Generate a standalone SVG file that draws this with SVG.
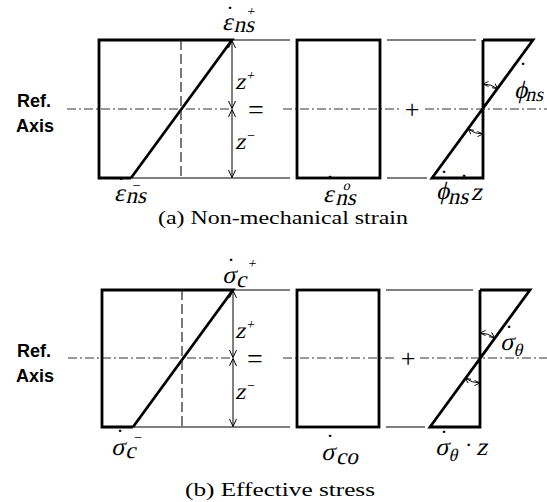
<svg xmlns="http://www.w3.org/2000/svg" width="547" height="502" viewBox="0 0 547 502">
<defs>
<marker id="ah" viewBox="0 0 8 8" refX="7.5" refY="4" markerWidth="8" markerHeight="8" markerUnits="userSpaceOnUse" orient="auto-start-reverse">
<path d="M0,0.5 L7.5,4 L0,7.5" fill="none" stroke="#000" stroke-width="1"/>
</marker>
<marker id="ahs" viewBox="0 0 8 8" refX="7.5" refY="4" markerWidth="6" markerHeight="6" markerUnits="userSpaceOnUse" orient="auto-start-reverse">
<path d="M0,0.5 L7.5,4 L0,7.5" fill="none" stroke="#000" stroke-width="1.2"/>
</marker>
</defs>
<style>
.thick{fill:none;stroke:#000;stroke-width:2.8;stroke-linejoin:miter}
.thin{fill:none;stroke:#000;stroke-width:1.1}
.dash{fill:none;stroke:#222;stroke-width:1.2;stroke-dasharray:10 4}
.axis{fill:none;stroke:#333;stroke-width:1.1;stroke-dasharray:9 3 2 3}
.dim{fill:none;stroke:#000;stroke-width:1;marker-start:url(#ah);marker-end:url(#ah)}
.arc{fill:none;stroke:#000;stroke-width:1;marker-start:url(#ahs);marker-end:url(#ahs)}
text{font-family:"Liberation Serif","Times New Roman",serif;fill:#000}
.m{font-size:25px}
.s{font-size:23px}
.sup{font-size:14px}
.th{font-size:18px}
.dot{font-size:24px;text-anchor:middle}
.op{font-size:28px;text-anchor:middle}
.ref{font-family:"Liberation Sans",Arial,sans-serif;font-weight:bold;font-size:18px}
.cap{font-size:18px}
</style>

<!-- ============ Panel (a) ============ -->
<g id="connectors-a">
<line class="axis" x1="67" y1="109" x2="232" y2="109"/>
<line class="axis" x1="283" y1="109" x2="400" y2="109"/>
<line class="axis" x1="425" y1="109" x2="547" y2="109"/>
<line class="thin" x1="232" y1="40" x2="290" y2="40"/>
<line class="thin" x1="131" y1="178" x2="290" y2="178"/>
<line class="thin" x1="387" y1="40" x2="476" y2="40"/>
<line class="thin" x1="387" y1="178" x2="427" y2="178"/>
<line class="dim" x1="232" y1="40.5" x2="232" y2="108.5"/>
<line class="dim" x1="232" y1="109.5" x2="232" y2="177.5"/>
<path class="arc" d="M483,84 A25,25 0 0 1 497.8,88.8"/>
<path class="arc" d="M483,134 A25,25 0 0 1 468.2,129.2"/>
</g>
<g id="node-a-left">
<path class="thick" d="M131,178 H99 V40 H232 L131,178"/>
<line class="dash" x1="181" y1="40" x2="181" y2="178"/>
</g>
<g id="node-a-mid">
<rect class="thick" x="297" y="40" width="83" height="138"/>
</g>
<g id="node-a-right">
<path class="thick" d="M483,40 V178 H432 L533,40 H483"/>
</g>
<g id="labels-a">
<text class="ref" x="17" y="107">Ref.</text>
<text class="ref" x="16" y="132">Axis</text>
<text class="op" x="256" y="119">=</text>
<text class="op" x="412" y="118" style="font-size:26px">+</text>
<g transform="translate(222,30) skewX(-13)"><text class="m" x="0" y="0">ε</text><text class="s" x="12" y="2">ns</text><text class="sup" x="21" y="-14">+</text></g>
<text class="dot" x="230" y="22">˙</text>
<g transform="translate(114,201) skewX(-13)"><text class="m" x="0" y="0">ε</text><text class="s" x="12" y="2">ns</text><text class="sup" x="15" y="-11">−</text></g>
<text class="dot" x="121" y="193">˙</text>
<g transform="translate(235,89) skewX(-13)"><text class="s" x="0" y="0">z</text><text class="sup" x="9" y="-9">+</text></g>
<g transform="translate(235,149) skewX(-13)"><text class="s" x="0" y="0">z</text><text class="sup" x="9" y="-9">−</text></g>
<g transform="translate(323,202) skewX(-13)"><text class="m" x="0" y="0">ε</text><text class="s" x="13" y="3">ns</text><text class="sup" x="17" y="-12">o</text></g>
<text class="dot" x="330" y="191">˙</text>
<g transform="translate(514,98) skewX(-13)"><text class="m" x="0" y="0">ϕ</text><text class="s" x="12" y="3" style="font-size:20px">ns</text></g>
<text class="dot" x="523" y="78">˙</text>
<g transform="translate(436,199) skewX(-13)"><text class="m" x="0" y="0">ϕ</text><text class="s" x="13" y="5">ns</text><text class="m" x="35" y="1">z</text></g>
<text class="dot" x="444" y="186">˙</text><text class="dot" x="464" y="190">˙</text>
<text class="cap" x="158" y="224" textLength="250" lengthAdjust="spacingAndGlyphs">(a)  Non-mechanical  strain</text>
</g>

<!-- ============ Panel (b) ============ -->
<g id="connectors-b">
<line class="axis" x1="68" y1="358" x2="233" y2="358"/>
<line class="axis" x1="283" y1="358" x2="397" y2="358"/>
<line class="axis" x1="420" y1="358" x2="547" y2="358"/>
<line class="thin" x1="233" y1="290" x2="290" y2="290"/>
<line class="thin" x1="133" y1="427" x2="290" y2="427"/>
<line class="thin" x1="386" y1="290" x2="473" y2="290"/>
<line class="thin" x1="386" y1="427" x2="425" y2="427"/>
<line class="dim" x1="233" y1="290.5" x2="233" y2="357.5"/>
<line class="dim" x1="233" y1="358.5" x2="233" y2="426.5"/>
<path class="arc" d="M480,333 A25,25 0 0 1 494.6,337.8"/>
<path class="arc" d="M480,383 A25,25 0 0 1 465.4,378.2"/>
</g>
<g id="node-b-left">
<path class="thick" d="M133,427 H102 V290 H233 L133,427"/>
<line class="dash" x1="182" y1="290" x2="182" y2="427"/>
</g>
<g id="node-b-mid">
<rect class="thick" x="297" y="290" width="82" height="137"/>
</g>
<g id="node-b-right">
<path class="thick" d="M480,290 V427 H430 L530,290 H480"/>
</g>
<g id="labels-b">
<text class="ref" x="17" y="357">Ref.</text>
<text class="ref" x="16" y="382">Axis</text>
<text class="op" x="255" y="368">=</text>
<text class="op" x="408" y="367" style="font-size:26px">+</text>
<g transform="translate(222,283) skewX(-13)"><text class="m" x="0" y="0">σ</text><text class="s" x="15" y="4">c</text><text class="sup" x="22" y="-15">+</text></g>
<text class="dot" x="231" y="274">˙</text>
<g transform="translate(111,455) skewX(-13)"><text class="m" x="0" y="0">σ</text><text class="s" x="15" y="3">c</text><text class="sup" x="19" y="-13">−</text></g>
<text class="dot" x="120" y="445">˙</text>
<g transform="translate(235,338) skewX(-13)"><text class="s" x="0" y="0">z</text><text class="sup" x="9" y="-9">+</text></g>
<g transform="translate(235,399) skewX(-13)"><text class="s" x="0" y="0">z</text><text class="sup" x="9" y="-9">−</text></g>
<g transform="translate(500,350) skewX(-13)"><text class="m" x="0" y="0">σ</text><text class="th" x="15" y="6">θ</text></g>
<text class="dot" x="509" y="341">˙</text>
<g transform="translate(321,460) skewX(-13)"><text class="m" x="0" y="0">σ</text><text class="s" x="16" y="4">co</text></g>
<text class="dot" x="330" y="450">˙</text>
<g transform="translate(435,455) skewX(-13)"><text class="m" x="0" y="0">σ</text><text class="th" x="15" y="6">θ</text></g>
<text class="dot" x="444" y="446">˙</text>
<text class="sup" x="465" y="452" style="font-size:22px">·</text>
<g transform="translate(476,455) skewX(-13)"><text class="m" x="0" y="0">z</text></g>
<text class="cap" x="185" y="496" textLength="190" lengthAdjust="spacingAndGlyphs">(b)  Effective  stress</text>
</g>
</svg>
